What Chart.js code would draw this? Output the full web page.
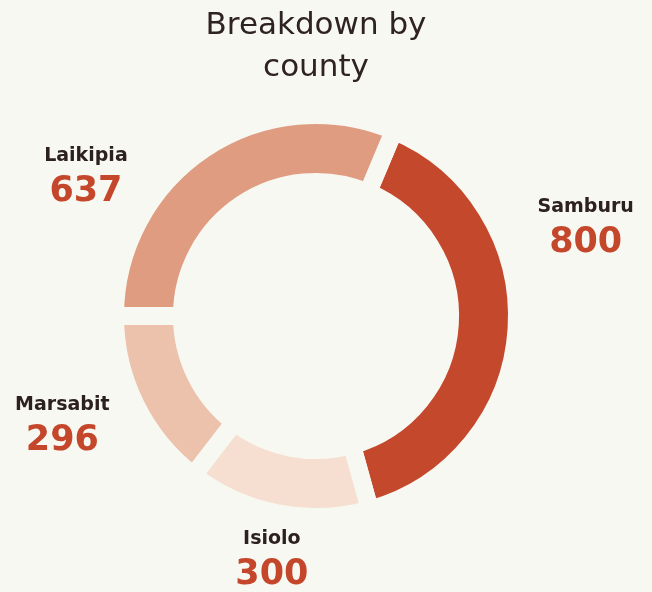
<!DOCTYPE html>
<html>
<head>
<meta charset="utf-8">
<script src="https://cdn.jsdelivr.net/npm/chart.js@4/dist/chart.umd.min.js"></script>
<style>
  html, body { margin: 0; padding: 0; background: #f8f8f2; }
  #wrap { width: 652px; height: 592px; }
</style>
</head>
<body>
<div id="wrap"><canvas id="donut" width="652" height="592"></canvas></div>
<script>
const counties = ['Samburu', 'Isiolo', 'Marsabit', 'Laikipia'];
const counts = [800, 300, 296, 637];
const sliceColors = ['#c4482c', '#f6ded1', '#ecc2ad', '#e09c80'];

const bg = '#f8f8f2';
const gapWidth = 18;

// where each label sits relative to its slice (degrees shifted, px beyond the ring)
const labelShift = [-22.5, -0.6, 3.5, -24.5];
const labelGap = [93, 52, 83, 79];

const countyLabels = {
    id: 'countyLabels',
    afterDraw(chart) {
        const ctx = chart.ctx;
        const arcs = chart.getDatasetMeta(0).data;
        ctx.save();
        ctx.textAlign = 'center';
        ctx.textBaseline = 'middle';
        arcs.forEach(function (arc, i) {
            const p = arc.getProps(['x', 'y', 'startAngle', 'endAngle', 'outerRadius'], true);
            const mid = (p.startAngle + p.endAngle) / 2 + labelShift[i] * Math.PI / 180;
            const r = p.outerRadius - gapWidth / 2 + labelGap[i];
            const lx = p.x + Math.cos(mid) * r;
            const ly = p.y + Math.sin(mid) * r;
            ctx.fillStyle = '#2d2120';
            ctx.font = 'bold 19px "DejaVu Sans"';
            ctx.fillText(counties[i], lx, ly - 17);
            ctx.fillStyle = '#c4472b';
            ctx.font = 'bold 35px "DejaVu Sans"';
            ctx.fillText(String(counts[i]), lx, ly + 19);
        });
        ctx.restore();
    }
};

const ctx = document.getElementById('donut').getContext('2d');
const donut = new Chart(ctx, {
    type: 'doughnut',
    data: {
        labels: counties,
        datasets: [{
            data: counts,
            backgroundColor: sliceColors,
            borderColor: bg,
            borderWidth: gapWidth,
            borderJoinStyle: 'miter'
        }]
    },
    options: {
        responsive: false,
        animation: false,
        rotation: 22.8,
        cutout: '66.7%',
        layout: { padding: { left: 0, right: 20, top: 0, bottom: 66 } },
        plugins: {
            legend: { display: false },
            tooltip: { enabled: false },
            title: {
                display: true,
                text: ['Breakdown by', 'county'],
                color: '#2e2222',
                font: { family: '"DejaVu Sans"', size: 31, weight: 'normal', lineHeight: 1.355 },
                padding: { top: 5, bottom: 17 }
            }
        }
    },
    plugins: [countyLabels]
});
</script>
</body>
</html>
